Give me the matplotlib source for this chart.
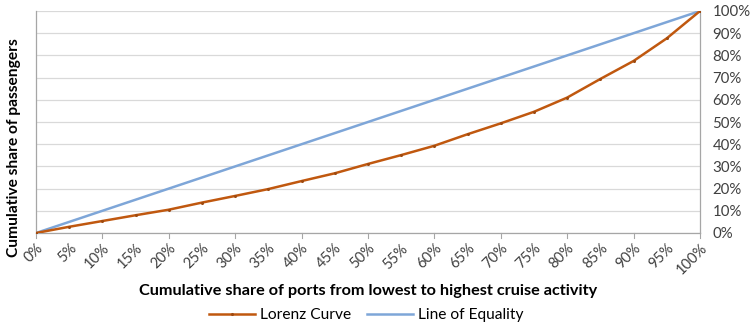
import numpy as np
import matplotlib
matplotlib.use('Agg')
import matplotlib.pyplot as plt
from matplotlib.ticker import FixedLocator

# Data (percent)
port_share = [0, 5, 10, 15, 20, 25, 30, 35, 40, 45, 50, 55, 60, 65, 70, 75, 80, 85, 90, 95, 100]
lorenz = [0, 2.8, 5.4, 8.0, 10.5, 13.7, 16.7, 19.8, 23.4, 26.9, 31.1, 35.1, 39.3,
          44.5, 49.4, 54.6, 61.0, 69.4, 77.5, 87.7, 100]
equality = [0, 100]
equality_x = [0, 100]

x_tick_labels = [f'{v}%' for v in port_share]
y_ticks = list(range(0, 101, 10))

plt.rcParams['font.family'] = ['Lato', 'DejaVu Sans']

fig = plt.figure(figsize=(7.53, 3.26), dpi=100)
ax = fig.add_axes([36 / 753, 1 - 233 / 326, (700 - 36) / 753, (233 - 11) / 326])

ax.plot(port_share, lorenz, color='#C0580F', linewidth=1.8, marker='o', markersize=1.2,
        markerfacecolor='#9E4A10', markeredgecolor='#9E4A10', label='Lorenz Curve', zorder=3)
ax.plot(equality_x, equality, color='#7EA6D8', linewidth=1.8, label='Line of Equality', zorder=2)

ax.set_xlim(0, 100)
ax.set_ylim(0, 100)

ax.xaxis.set_major_locator(FixedLocator(port_share))
ax.set_xticklabels(x_tick_labels, rotation=45, ha='right', rotation_mode='anchor', fontsize=10.5,
                   color='#404040')
ax.tick_params(axis='x', length=0, pad=6)
# tick marks only every 10%
for v in range(0, 101, 10):
    ax.plot([v, v], [0, -2.3], color='#A6A6A6', linewidth=0.8, clip_on=False, zorder=1)

ax.yaxis.tick_right()
ax.set_yticks(y_ticks)
ax.set_yticklabels([f'{v}%' for v in y_ticks], fontsize=10.8, color='#404040')
ax.tick_params(axis='y', length=0, pad=9)
ax.grid(axis='y', color='#D9D9D9', linewidth=0.9)
ax.set_axisbelow(True)

for side in ['left', 'right', 'bottom']:
    ax.spines[side].set_color('#A6A6A6')
    ax.spines[side].set_linewidth(0.9)
ax.spines['top'].set_visible(False)

ax.set_xlabel('Cumulative share of ports from lowest to highest cruise activity',
              fontsize=11.7, fontweight='bold', labelpad=5)
fig.text(14 / 753, 1 - 148 / 326, 'Cumulative share of passengers', rotation=90,
         ha='center', va='center', fontsize=11.2, fontweight='bold')

fig.legend(loc='center', bbox_to_anchor=(366 / 753, 1 - 315 / 326), ncol=2, frameon=False,
           fontsize=11.2, handlelength=3.0, columnspacing=1.0, handletextpad=0.3)

fig.savefig('out.png', dpi=100)
